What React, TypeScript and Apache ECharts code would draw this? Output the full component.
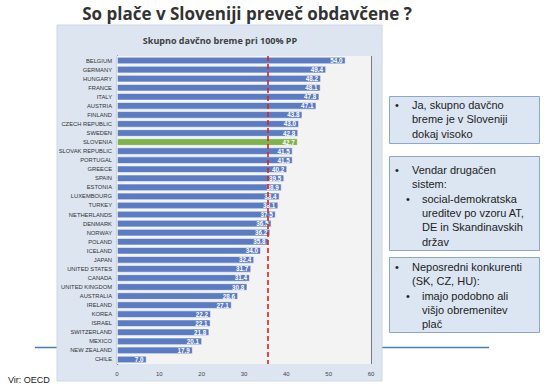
import React, { useEffect, useRef } from "react";
import * as echarts from "echarts";

const countries = [
  "BELGIUM", "GERMANY", "HUNGARY", "FRANCE", "ITALY", "AUSTRIA", "FINLAND",
  "CZECH REPUBLIC", "SWEDEN", "SLOVENIA", "SLOVAK REPUBLIC", "PORTUGAL", "GREECE",
  "SPAIN", "ESTONIA", "LUXEMBOURG", "TURKEY", "NETHERLANDS", "DENMARK", "NORWAY",
  "POLAND", "ICELAND", "JAPAN", "UNITED STATES", "CANADA", "UNITED KINGDOM",
  "AUSTRALIA", "IRELAND", "KOREA", "ISRAEL", "SWITZERLAND", "MEXICO",
  "NEW ZEALAND", "CHILE",
];
const taxBurden = [
  54.0, 49.4, 48.2, 48.1, 47.8, 47.1, 43.8, 43.0, 42.8, 42.7, 41.5, 41.5, 40.2,
  39.5, 38.9, 38.4, 38.1, 37.5, 36.5, 36.2, 35.8, 34.0, 32.4, 31.7, 31.4, 30.8,
  28.6, 27.1, 22.2, 22.1, 21.8, 20.1, 17.9, 7.0,
];
const highlighted = "SLOVENIA";
const oecdAverage = 35.6;
const xTicks = [0, 10, 20, 30, 40, 50, 60];

const mainTitle = "So plače v Sloveniji preveč obdavčene ?";
const chartTitle = "Skupno davčno breme pri 100% PP";
const sourceText = "Vir: OECD";

type Line = { text: string; level: number };
const box1: Line[] = [
  { text: "Ja, skupno davčno", level: 0 },
  { text: "breme je v Sloveniji", level: -1 },
  { text: "dokaj visoko", level: -1 },
];
const box2: Line[] = [
  { text: "Vendar drugačen", level: 0 },
  { text: "sistem:", level: -1 },
  { text: "social-demokratska", level: 1 },
  { text: "ureditev po vzoru AT,", level: -2 },
  { text: "DE in Skandinavskih", level: -2 },
  { text: "držav", level: -2 },
];
const box3: Line[] = [
  { text: "Neposredni konkurenti", level: 0 },
  { text: "(SK, CZ, HU):", level: -1 },
  { text: "imajo podobno ali", level: 1 },
  { text: "višjo obremenitev", level: -2 },
  { text: "plač", level: -2 },
];

function boxGraphics(lines: Line[], top: number, bottom: number, firstY: number) {
  const els: any[] = [
    {
      type: "rect",
      shape: { x: 389.5, y: top + 0.5, width: 150, height: bottom - top },
      style: { fill: "#dce6f2", stroke: "#8fa6c4", lineWidth: 1 },
      z: 5,
    },
  ];
  const step = 14.3;
  lines.forEach((ln, i) => {
    const y = firstY + i * step;
    const textX = ln.level === 0 || ln.level === -1 ? 412 : 422;
    if (ln.level === 0 || ln.level === 1) {
      els.push({
        type: "text",
        x: ln.level === 0 ? 397 : 408,
        y,
        style: {
          text: "•",
          fill: "#222",
          font: "11px 'Liberation Sans', Arial, sans-serif",
          align: "center",
          verticalAlign: "middle",
        },
        z: 6,
      });
    }
    els.push({
      type: "text",
      x: textX,
      y,
      style: {
        text: ln.text,
        fill: "#222",
        font: "11px 'Liberation Sans', Arial, sans-serif",
        align: "left",
        verticalAlign: "middle",
      },
      z: 6,
    });
  });
  return els;
}

export default function App() {
  const ref = useRef<HTMLDivElement>(null);
  useEffect(() => {
    if (!ref.current) return;
    const chart = echarts.init(ref.current, null, { renderer: "svg" });
    const option: any = {
      animation: false,
      backgroundColor: "#ffffff",
      grid: {
        left: 117,
        right: 178,
        top: 56,
        bottom: 25,
        show: true,
        backgroundColor: "#f3f3f3",
        borderWidth: 0,
        z: 2,
      },
      xAxis: {
        type: "value",
        min: xTicks[0],
        max: xTicks[xTicks.length - 1],
        interval: 10,
        axisLine: { show: false },
        axisTick: { show: false },
        axisLabel: {
          fontSize: 6,
          color: "#444",
          margin: 7,
          fontFamily: "'Liberation Sans', Arial, sans-serif",
        },
        splitLine: { show: true, lineStyle: { color: "#7a7a7a", width: 1 } },
      },
      yAxis: {
        type: "category",
        inverse: true,
        data: countries,
        axisLine: { show: true, lineStyle: { color: "#333", width: 1.2 } },
        axisTick: { show: false },
        axisLabel: {
          fontSize: 5.8,
          color: "#333",
          margin: 5,
          fontFamily: "'Liberation Sans Narrow', 'Liberation Sans', Arial, sans-serif",
        },
      },
      series: [
        {
          type: "bar",
          z: 3,
          data: taxBurden.map((v, i) => ({
            value: v,
            itemStyle: {
              color: countries[i] === highlighted ? "#7db24c" : "#5b7bc2",
            },
          })),
          barCategoryGap: "18%",
          itemStyle: { borderColor: "rgba(255,255,255,0.7)", borderWidth: 0.8 },
          label: {
            show: true,
            position: "insideRight",
            color: "#ffffff",
            fontSize: 6.3,
            fontWeight: "bold",
            distance: 3,
            fontFamily: "'Liberation Sans', Arial, sans-serif",
            formatter: (p: any) => Number(p.value).toFixed(1),
          },
          markLine: {
            silent: true,
            symbol: "none",
            label: { show: false },
            lineStyle: { color: "#e0211b", type: [5, 3], width: 1.6 },
            data: [{ xAxis: oecdAverage }],
            z: 5,
          },
        },
      ],
      graphic: [
        {
          type: "line",
          shape: { x1: 35, y1: 347.5, x2: 489, y2: 347.5 },
          style: { stroke: "#4a7ebb", lineWidth: 1.5 },
          z: -20,
        },
        {
          type: "rect",
          shape: { x: 57, y: 25, width: 325, height: 356 },
          style: { fill: "#dde5f1", stroke: "#cdd7e6", lineWidth: 1 },
          z: -10,
        },
        {
          type: "text",
          x: 247,
          y: 13,
          style: {
            text: mainTitle,
            fill: "#333333",
            font: "bold 17px 'Open Sans', 'Liberation Sans', sans-serif",
            align: "center",
            verticalAlign: "middle",
          },
        },
        {
          type: "text",
          x: 220,
          y: 40,
          style: {
            text: chartTitle,
            fill: "#404040",
            font: "bold 9px 'Open Sans', 'Liberation Sans', sans-serif",
            align: "center",
            verticalAlign: "middle",
          },
        },
        {
          type: "text",
          x: 8,
          y: 380,
          style: {
            text: sourceText,
            fill: "#222",
            font: "9px 'Liberation Sans', Arial, sans-serif",
            align: "left",
            verticalAlign: "middle",
          },
        },
        ...boxGraphics(box1, 96, 143, 105),
        ...boxGraphics(box2, 156, 250, 170),
        ...boxGraphics(box3, 257, 332, 267),
      ],
    };
    chart.setOption(option);
    return () => chart.dispose();
  }, []);
  return (
    <div
      ref={ref}
      style={{ position: "fixed", left: 0, top: 0, width: 549, height: 389 }}
    />
  );
}
